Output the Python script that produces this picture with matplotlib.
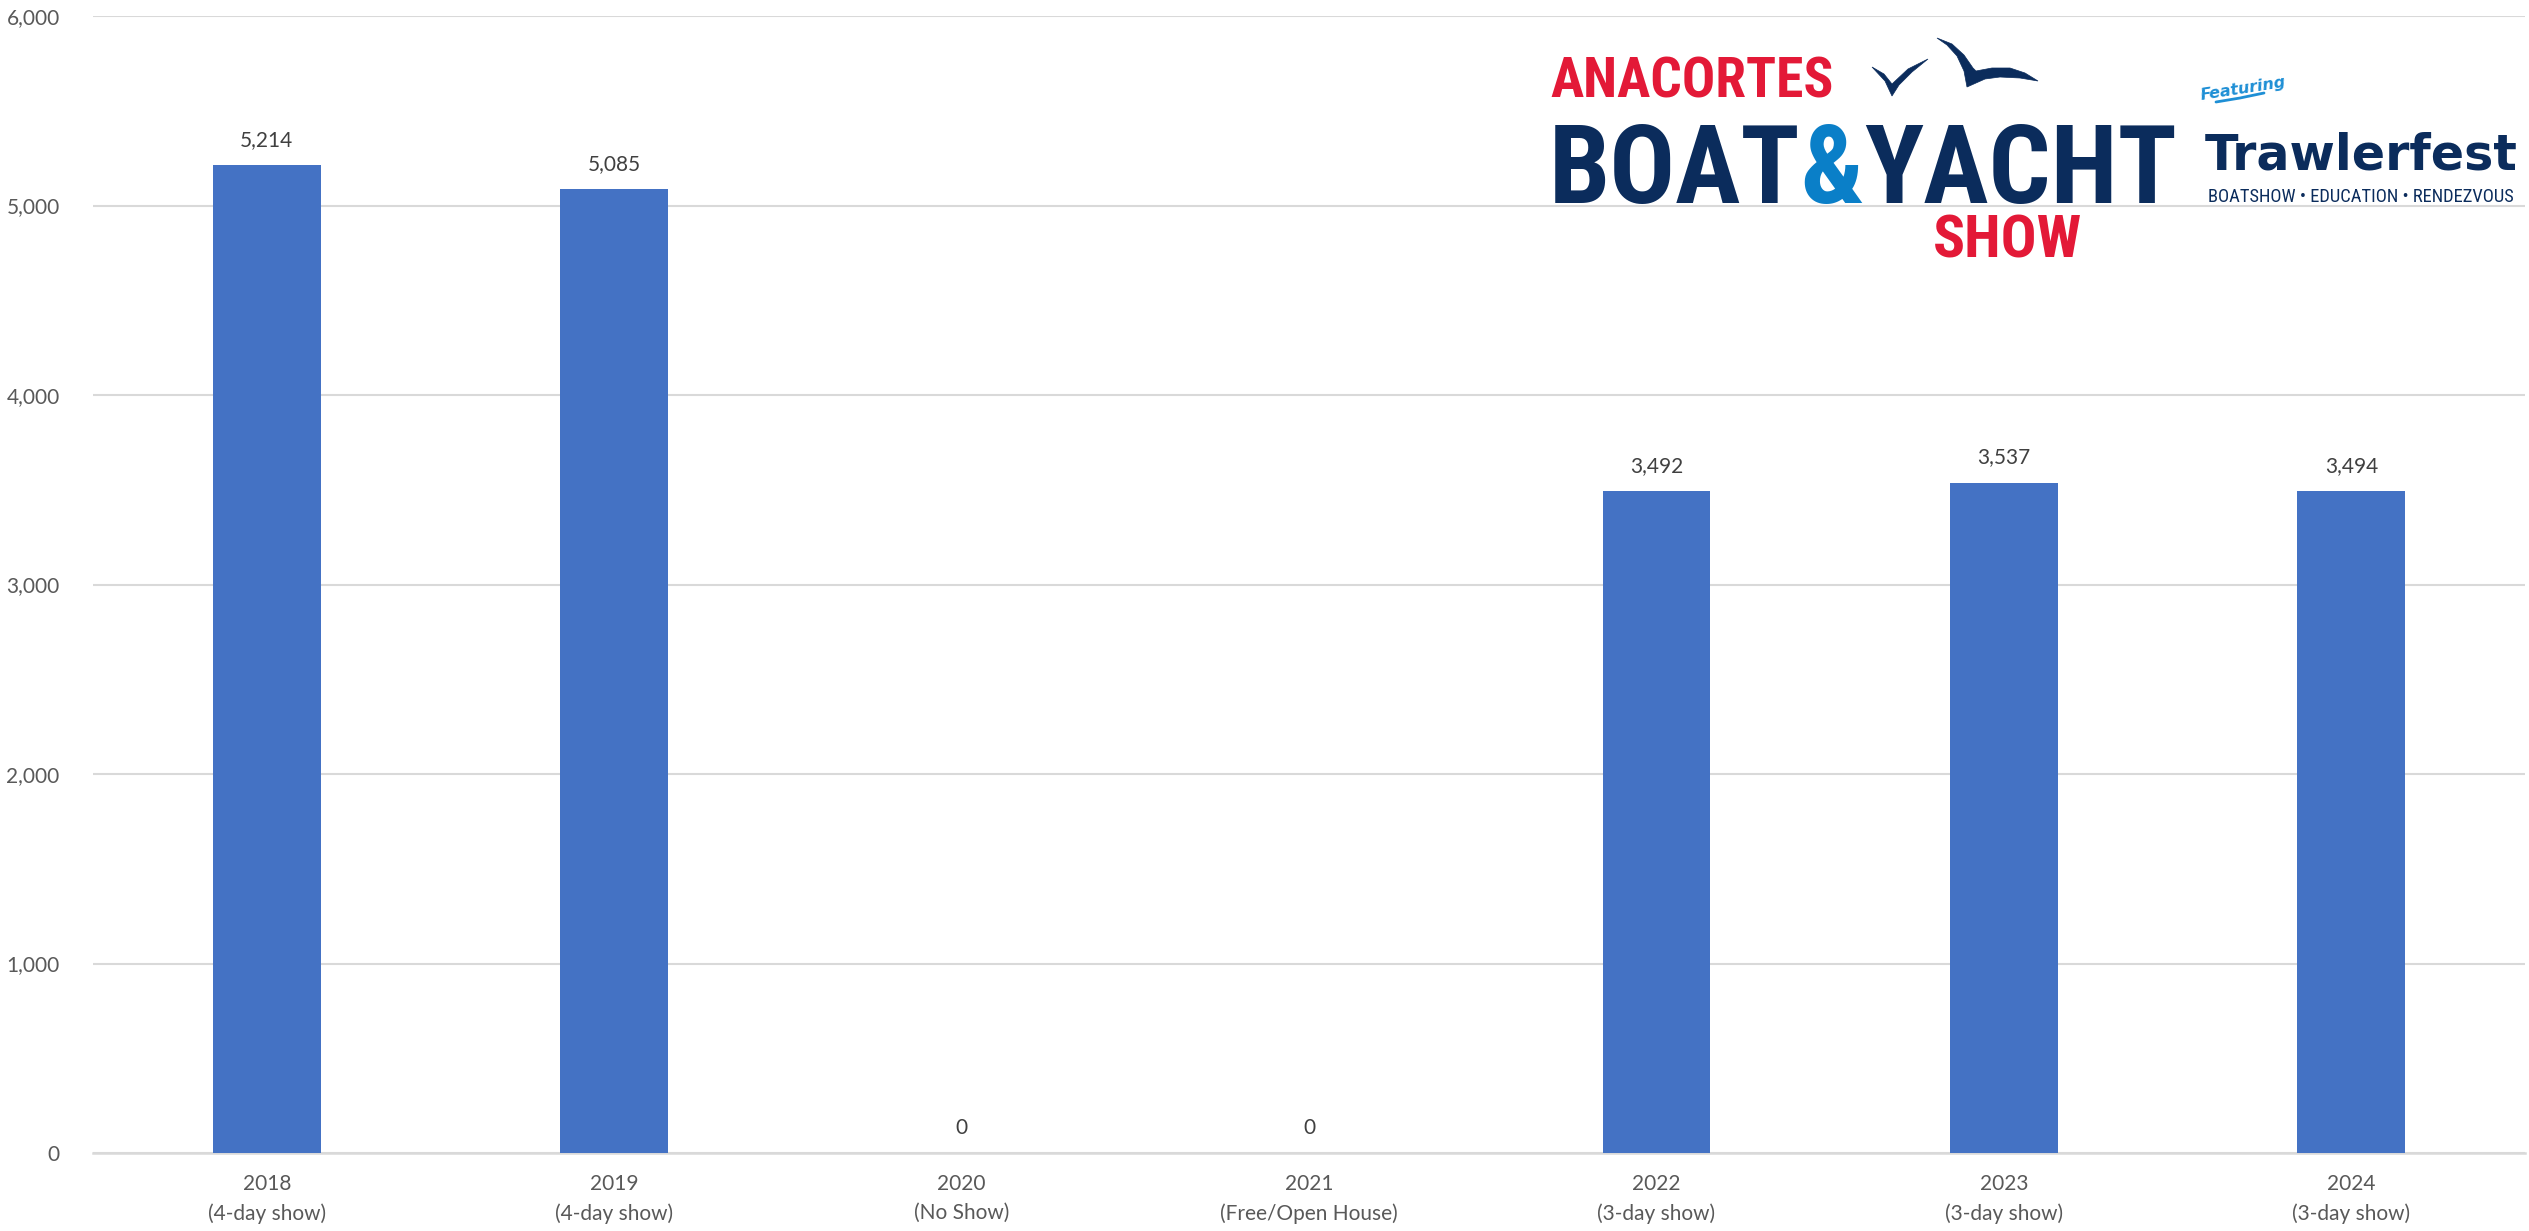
import matplotlib
matplotlib.use("Agg")
import matplotlib.pyplot as plt
from matplotlib.lines import Line2D
from matplotlib.patches import Polygon
from matplotlib.ticker import FuncFormatter

years = ["2018", "2019", "2020", "2021", "2022", "2023", "2024"]
notes = ["(4-day show)", "(4-day show)", "(No Show)", "(Free/Open House)",
         "(3-day show)", "(3-day show)", "(3-day show)"]
attendance = [5214, 5085, 0, 0, 3492, 3537, 3494]
y_ticks = [0, 1000, 2000, 3000, 4000, 5000, 6000]

W, H = 2529, 1231
plt.rcParams['font.family'] = ['Lato', 'DejaVu Sans']
fig = plt.figure(figsize=(W / 100, H / 100), dpi=100)
ax = fig.add_axes([93 / W, 1 - 1153 / H, (2525 - 93) / W, (1153 - 16) / H])

x = list(range(len(years)))
ax.bar(x, attendance, width=0.31, color="#4472C4", zorder=3)
for xi, v in zip(x, attendance):
    ax.annotate(f"{v:,}", (xi, v), xytext=(0, 11), textcoords="offset points",
                ha="center", va="bottom", fontsize=15, color="#404040")

ax.set_xlim(-0.5, len(years) - 0.5)
ax.set_ylim(0, 6000)
ax.set_yticks(y_ticks)
ax.yaxis.set_major_formatter(FuncFormatter(lambda v, p: f"{int(v):,}"))
ax.set_xticks(x)
ax.set_xticklabels([f"{a}\n{b}" for a, b in zip(years, notes)], linespacing=1.55)
ax.tick_params(axis="both", length=0, labelsize=15, colors="#595959")
ax.tick_params(axis="x", pad=15)
ax.tick_params(axis="y", pad=24)
ax.grid(axis="y", color="#D9D9D9", linewidth=1.5, zorder=0)
for s in ["top", "right", "left"]:
    ax.spines[s].set_visible(False)
ax.spines["bottom"].set_color("#D9D9D9")
ax.spines["bottom"].set_linewidth(1.8)

# ---- logo (text + bird shapes) ----
RED = "#E31937"
NAVY = "#0B2C5C"
BLUE = "#0A7FC8"
renderer = fig.canvas.get_renderer()
COND = ['Roboto Condensed', 'Liberation Sans Narrow', 'DejaVu Sans']


def fx(px):
    return px / W


def fy(py):
    return 1 - py / H


def fit_text(xp, yp, s, target_w, size, **kw):
    t = fig.text(fx(xp), fy(yp), s, fontsize=size, va="baseline", ha="left", **kw)
    bb = t.get_window_extent(renderer)
    t.set_fontsize(size * target_w / bb.width)
    return t


cond = dict(fontweight="bold", family=COND)
fit_text(1550, 97, "ANACORTES", 283, 38, color=RED, **cond)
fit_text(1933, 257, "SHOW", 149, 39, color=RED, **cond)

# BOAT&YACHT chained
parts = [("BOAT", NAVY), ("&", BLUE), ("YACHT", NAVY)]
size = 87
total = 0
tmp = []
for s, c in parts:
    t = fig.text(0, 0, s, fontsize=size, **cond)
    total += t.get_window_extent(renderer).width
    tmp.append(t)
for t in tmp:
    t.remove()
size *= min(1.0, 628 / total)
xc = 1549
for s, c in parts:
    t = fig.text(fx(xc), fy(203), s, fontsize=size, color=c, va="baseline", ha="left", **cond)
    xc += t.get_window_extent(renderer).width

fit_text(2199, 100, "Featuring", 88, 22, color="#1E8FD5", fontweight="bold",
         fontstyle="italic", rotation=9, family=["DejaVu Sans"])
fig.add_artist(Line2D([fx(2216), fx(2240), fx(2264)], [fy(102), fy(98), fy(93)],
                      transform=fig.transFigure, color="#1E8FD5", lw=2,
                      solid_capstyle="round"))
fit_text(2205, 170, "Trawlerfest", 312, 38, color=NAVY, fontweight="bold",
         family=["DejaVu Sans"])
fit_text(2208, 202, "BOATSHOW • EDUCATION • RENDEZVOUS", 307, 10,
         color=NAVY, family=COND)

# birds
def shape(pts):
    fig.add_artist(Polygon([(fx(a), fy(b)) for a, b in pts], closed=True,
                           transform=fig.transFigure, facecolor=NAVY,
                           edgecolor=NAVY, lw=0.5))


shape([(1872, 67), (1884, 74), (1892, 84), (1908, 69), (1928, 59),
       (1912, 72), (1899, 85), (1892, 96), (1885, 81)])
shape([(1937, 38), (1952, 44), (1964, 55), (1973, 68), (1976, 71),
       (1992, 68), (2010, 68), (2025, 73), (2038, 81),
       (2020, 78), (2000, 77), (1985, 79), (1967, 87),
       (1964, 71), (1957, 56), (1947, 45)])

fig.savefig("out.png", dpi=100, facecolor="white")
